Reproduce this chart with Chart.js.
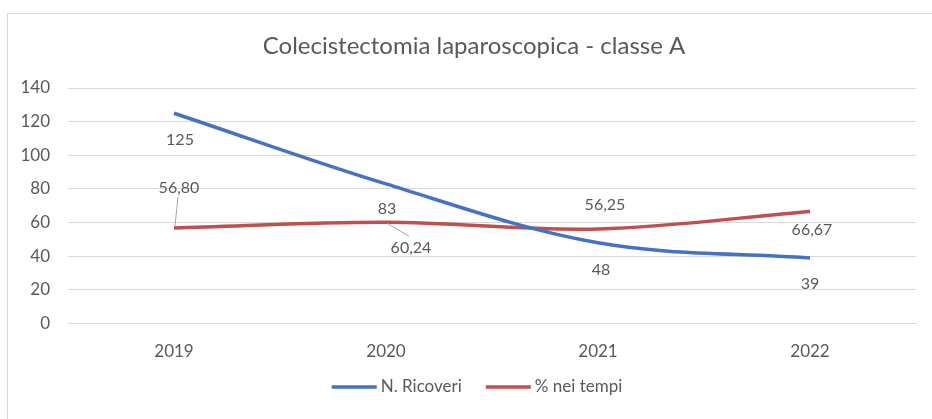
<!DOCTYPE html>
<html>
<head>
<meta charset="utf-8">
<script src="https://cdn.jsdelivr.net/npm/chart.js@4.4.1/dist/chart.umd.min.js"></script>
<style>
  html, body { margin: 0; padding: 0; background: #fff; }
  #wrap { position: relative; width: 932px; height: 419px; overflow: hidden; }
  #frame { position: absolute; left: 7px; top: 13px; width: 960px; height: 440px; border: 1px solid #d9d9d9; box-sizing: border-box; }
  canvas { position: absolute; left: 0; top: 0; }
</style>
</head>
<body>
<div id="wrap">
  <div id="frame"></div>
  <canvas id="chart" width="932" height="419"></canvas>
</div>
<script>
const years = ['2019', '2020', '2021', '2022'];
const ricoveri = [125, 83, 48, 39];
const neiTempi = [56.80, 60.24, 56.25, 66.67];
const yTicks = [0, 20, 40, 60, 80, 100, 120, 140];

// label offsets from each point (dx, dy), and whether a leader line is drawn
const ricoveriLabelPos = [[6, 27], [1, 25], [3, 27], [0, 26]];
const neiTempiLabelPos = [[5, -40], [25, 26], [7, -24], [2, 18]];
const neiTempiLeader = [true, true, false, false];

const titleText = 'Colecistectomia laparoscopica - classe A';
const fontFamily = 'Lato, "Open Sans", sans-serif';
const grey = '#595959';

const fmt = (v, dec) => v.toFixed(dec).replace('.', ',');

const dataLabels = {
    id: 'dataLabels',
    afterDatasetsDraw (chart) {
        const ctx = chart.ctx;
        ctx.save();
        ctx.font = '16px ' + fontFamily;
        ctx.fillStyle = grey;
        ctx.textAlign = 'center';
        ctx.textBaseline = 'middle';
        chart.data.datasets.forEach((ds, di) => {
            const meta = chart.getDatasetMeta(di);
            meta.data.forEach((pt, i) => {
                const [dx, dy] = ds.labelPos[i];
                const tx = pt.x + dx;
                const ty = pt.y + dy;
                if (ds.leader && ds.leader[i]) {
                    ctx.strokeStyle = '#a6a6a6';
                    ctx.lineWidth = 1;
                    ctx.beginPath();
                    ctx.moveTo(pt.x + 1, pt.y - (dy < 0 ? 2 : -1));
                    ctx.lineTo(tx + (dx > 10 ? -2 : -1), ty + (dy < 0 ? 9 : -12));
                    ctx.stroke();
                }
                ctx.fillText(fmt(ds.data[i], ds.decimals), tx, ty);
            });
        });
        ctx.restore();
    }
};

// title and legend drawn by hand so they sit where the original has them
const titleAndLegend = {
    id: 'titleAndLegend',
    afterDraw (chart) {
        const ctx = chart.ctx;
        ctx.save();
        ctx.fillStyle = grey;
        ctx.textBaseline = 'middle';
        ctx.textAlign = 'center';
        ctx.font = '24px ' + fontFamily;
        ctx.fillText(titleText, 474, 46);

        ctx.font = '17px ' + fontFamily;
        ctx.textAlign = 'left';
        const lineW = 45, gapText = 4, gapItem = 24, y = 387;
        const items = chart.data.datasets.map(ds => ({
            text: ds.label, color: ds.borderColor, w: ctx.measureText(ds.label).width
        }));
        const total = items.reduce((s, it) => s + lineW + gapText + it.w, 0) + gapItem * (items.length - 1);
        let x = 477 - total / 2;
        items.forEach(it => {
            ctx.strokeStyle = it.color;
            ctx.lineWidth = 3.5;
            ctx.beginPath();
            ctx.moveTo(x, y);
            ctx.lineTo(x + lineW, y);
            ctx.stroke();
            x += lineW + gapText;
            ctx.fillText(it.text, x, y);
            x += it.w + gapItem;
        });
        ctx.restore();
    }
};

new Chart(document.getElementById('chart').getContext('2d'), {
    type: 'line',
    data: {
        labels: years,
        datasets: [
            {
                label: 'N. Ricoveri',
                data: ricoveri,
                borderColor: '#4472C4',
                backgroundColor: '#4472C4',
                borderWidth: 3.5,
                pointRadius: 0,
                tension: 0.35,
                decimals: 0,
                labelPos: ricoveriLabelPos
            },
            {
                label: '% nei tempi',
                data: neiTempi,
                borderColor: '#C0504D',
                backgroundColor: '#C0504D',
                borderWidth: 3.5,
                pointRadius: 0,
                tension: 0.35,
                decimals: 2,
                labelPos: neiTempiLabelPos,
                leader: neiTempiLeader
            }
        ]
    },
    options: {
        responsive: false,
        animation: false,
        layout: { padding: { left: 8, right: 16, top: 88, bottom: 39 } },
        plugins: {
            title: { display: false },
            legend: { display: false },
            tooltip: { enabled: false }
        },
        scales: {
            x: {
                offset: true,
                grid: { display: false, drawTicks: false },
                border: { color: '#d9d9d9', width: 1 },
                ticks: { color: grey, font: { family: fontFamily, size: 17 }, padding: 18 }
            },
            y: {
                min: 0,
                max: 140,
                afterBuildTicks: (scale) => { scale.ticks = yTicks.map(v => ({ value: v })); },
                afterFit: (scale) => { scale.width = 60; },
                grid: { color: '#d9d9d9', drawTicks: false },
                border: { display: false },
                ticks: { color: grey, font: { family: fontFamily, size: 17 }, padding: 18 }
            }
        }
    },
    plugins: [dataLabels, titleAndLegend]
});
</script>
</body>
</html>
